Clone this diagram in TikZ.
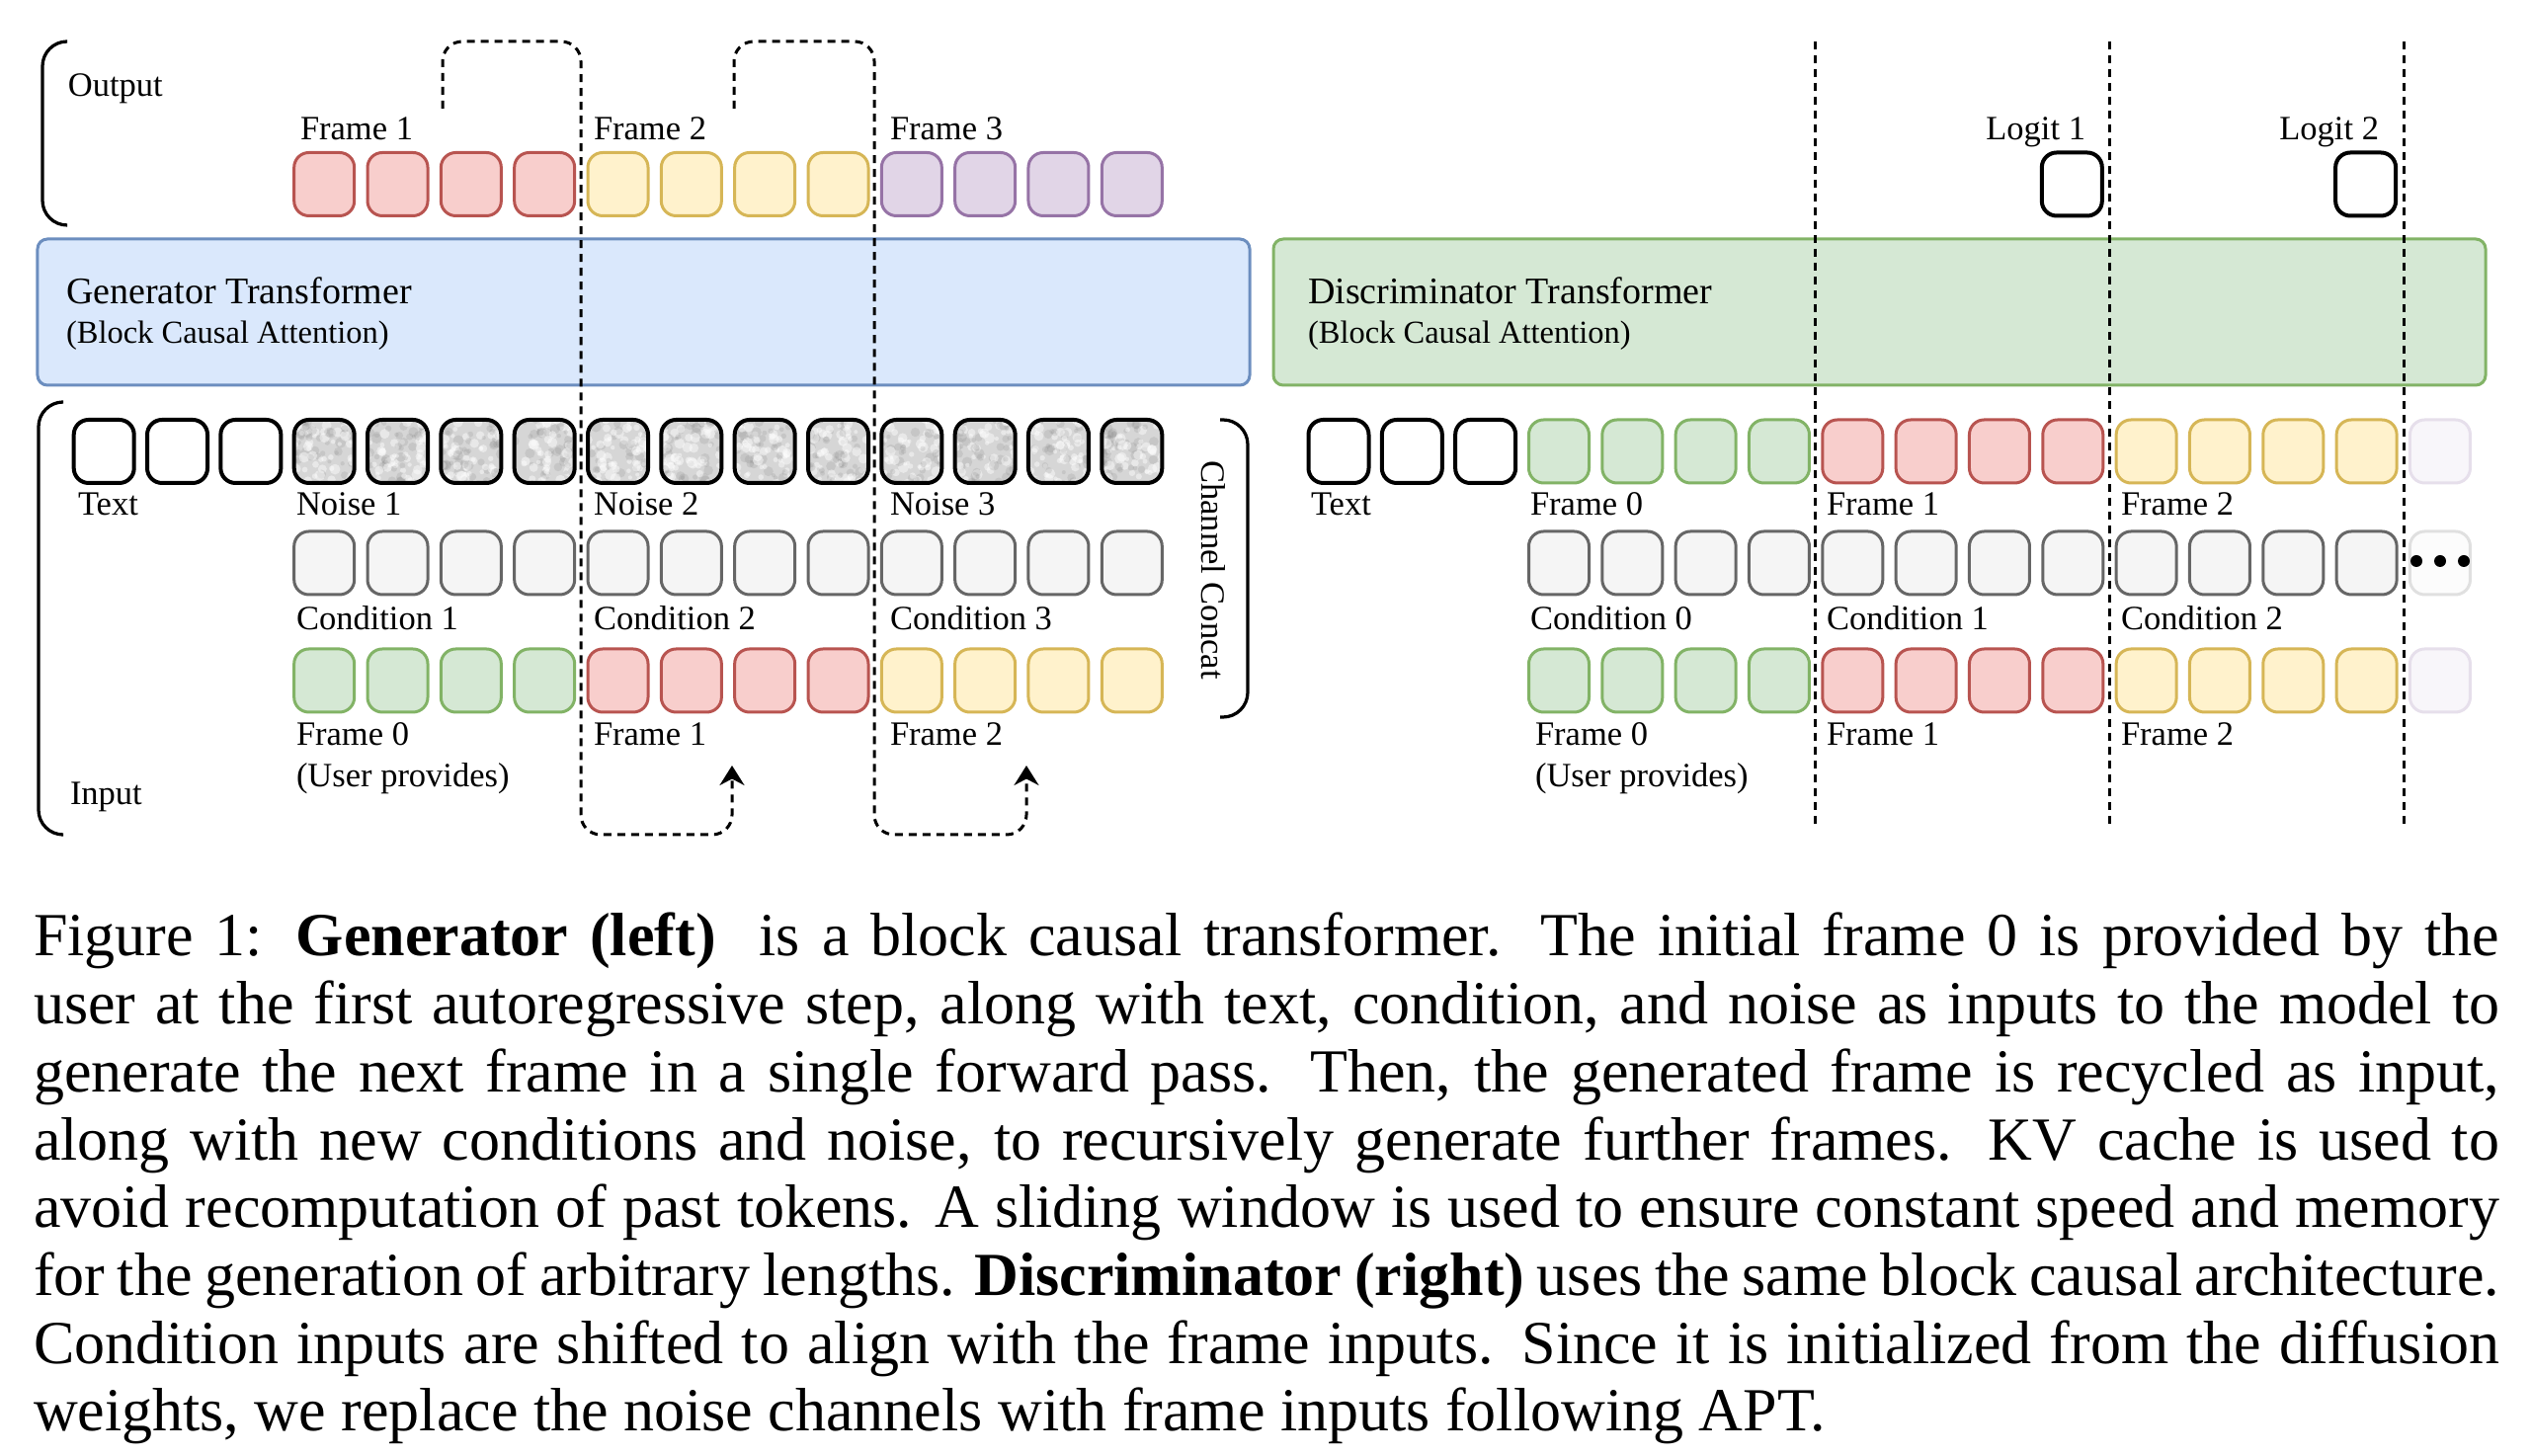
\documentclass[tikz,border=0pt]{standalone}
\usepackage{fontspec}
\setmainfont{Liberation Serif}
\usetikzlibrary{arrows.meta}
\definecolor{RedF}{HTML}{F8CECC}\definecolor{RedD}{HTML}{B85450}
\definecolor{YelF}{HTML}{FFF2CC}\definecolor{YelD}{HTML}{D6B656}
\definecolor{PurF}{HTML}{E1D5E7}\definecolor{PurD}{HTML}{9673A6}
\definecolor{GrnF}{HTML}{D5E8D4}\definecolor{GrnD}{HTML}{82B366}
\definecolor{GryF}{HTML}{F5F5F5}\definecolor{GryD}{HTML}{666666}
\definecolor{BluF}{HTML}{DAE8FC}\definecolor{BluD}{HTML}{6C8EBF}
\definecolor{FPurF}{HTML}{F8F6FA}\definecolor{FPurD}{HTML}{E6DFEB}
\definecolor{FGryF}{HTML}{FCFCFC}\definecolor{FGryD}{HTML}{E0E0E0}
\definecolor{NoiseBase}{HTML}{D6D6D6}
\newcommand{\lblfont}{\fontsize{6.9}{8}\selectfont}
\newcommand{\ttlfont}{\fontsize{7.6}{9}\selectfont}
\newcommand{\subfont}{\fontsize{6.5}{8}\selectfont}
\tikzset{
  tok/.style={rectangle, rounded corners=3pt, minimum width=12.2pt, minimum height=12.8pt, inner sep=0pt, line width=0.6pt},
  txttok/.style={tok, draw=black, fill=white, line width=0.8pt},
  noisetok/.style={tok, draw=black, fill=NoiseBase, line width=0.8pt,
    path picture={
      \begin{scope}[shift={(path picture bounding box.center)}]
      \foreach \i in {1,...,90}{
        \pgfmathsetmacro{\nx}{rand*32}
        \pgfmathsetmacro{\ny}{rand*34}
        \pgfmathsetmacro{\nr}{0.4+rnd*0.7}
        \pgfmathsetmacro{\nw}{rnd}
        \ifdim\nw pt>0.45pt
          \fill[white, opacity=0.45] (\nx,\ny) circle (\nr pt);
        \else
          \fill[black!50, opacity=0.18] (\nx,\ny) circle (\nr pt);
        \fi
      }
      \end{scope}
    }},
  redtok/.style={tok, draw=RedD, fill=RedF},
  yeltok/.style={tok, draw=YelD, fill=YelF},
  purtok/.style={tok, draw=PurD, fill=PurF},
  grntok/.style={tok, draw=GrnD, fill=GrnF},
  grytok/.style={tok, draw=GryD, fill=GryF},
  fpurtok/.style={tok, draw=FPurD, fill=FPurF},
  fgrytok/.style={tok, draw=FGryD, fill=FGryF},
  lbl/.style={anchor=base west, inner sep=0pt, font=\lblfont},
  lble/.style={anchor=base east, inner sep=0pt, font=\lblfont},
  bigbox/.style={rectangle, rounded corners=2pt, line width=0.6pt, minimum width=245.4pt, minimum height=29.6pt, inner sep=0pt},
  dashline/.style={line width=0.6pt, dash pattern=on 1.6pt off 1.2pt},
  brk/.style={line width=0.65pt, rounded corners=5pt},
  arrowtip/.style={-{Stealth[length=4pt,width=5pt]}}
}
\begin{document}
\begin{tikzpicture}[x=0.2pt,y=-0.2pt]
\pgfmathsetseed{42}
\useasboundingbox (0,0) rectangle (2562,1474);

% transformer boxes
\node[bigbox, draw=BluD, fill=BluF] (gen) at (651.5,316) {};
\node[bigbox, draw=GrnD, fill=GrnF] (dis) at (1902.5,316) {};
\node[anchor=base west, inner sep=0pt, font=\ttlfont] (gent) at (66,308) {Generator Transformer};
\node[anchor=base west, inner sep=0pt, font=\subfont] (gens) at (66,348) {(Block Causal Attention)};
\node[anchor=base west, inner sep=0pt, font=\ttlfont] (dist) at (1323,308) {Discriminator Transformer};
\node[anchor=base west, inner sep=0pt, font=\subfont] (diss) at (1323,348) {(Block Causal Attention)};

% ---------- left: generator ----------
% output row
\foreach \k in {3,...,6}{\node[redtok] (o\k) at ({105.2+74.33*\k},186.5) {};}
\foreach \k in {7,...,10}{\node[yeltok] (o\k) at ({105.2+74.33*\k},186.5) {};}
\foreach \k in {11,...,14}{\node[purtok] (o\k) at ({105.2+74.33*\k},186.5) {};}
% input row 1
\foreach \k in {0,...,2}{\node[txttok] (a\k) at ({105.2+74.33*\k},457) {};}
\foreach \k in {3,...,14}{\node[noisetok] (a\k) at ({105.2+74.33*\k},457) {};}
% input row 2
\foreach \k in {3,...,14}{\node[grytok] (b\k) at ({105.2+74.33*\k},570) {};}
% input row 3
\foreach \k in {3,...,6}{\node[grntok] (c\k) at ({105.2+74.33*\k},689) {};}
\foreach \k in {7,...,10}{\node[redtok] (c\k) at ({105.2+74.33*\k},689) {};}
\foreach \k in {11,...,14}{\node[yeltok] (c\k) at ({105.2+74.33*\k},689) {};}

% labels left
\node[lbl] (lout) at (68,98) {Output};
\node[lbl] (lin) at (70,815) {Input};
\node[lbl] (lo1) at (303,142) {Frame 1};
\node[lbl] (lo2) at (600,142) {Frame 2};
\node[lbl] (lo3) at (900,142) {Frame 3};
\node[lbl] (lt) at (78,522) {Text};
\node[lbl] (ln1) at (299,522) {Noise 1};
\node[lbl] (ln2) at (600,522) {Noise 2};
\node[lbl] (ln3) at (900,522) {Noise 3};
\node[lbl] (lc1) at (299,638) {Condition 1};
\node[lbl] (lc2) at (600,638) {Condition 2};
\node[lbl] (lc3) at (900,638) {Condition 3};
\node[lbl] (lf0) at (299,755) {Frame 0};
\node[lbl] (lf1) at (600,755) {Frame 1};
\node[lbl] (lf2) at (900,755) {Frame 2};
\node[lbl] (lup) at (299,797) {(User provides)};
\node[font=\lblfont, rotate=-90, inner sep=0pt] (lcc) at (1228,577) {Channel Concat};

% brackets
\draw[brk] (68,42) -- (43,42) -- (43,228) -- (68,228);
\draw[brk] (62,407) -- (39,407) -- (39,845) -- (62,845);
\draw[brk] (1235,425) -- (1263,425) -- (1263,726) -- (1235,726);

% recurrence loops
\coordinate (l1s) at (448,110);
\coordinate (l1e) at (741,775);
\coordinate (l2s) at (743,110);
\coordinate (l2e) at (1039,775);
\draw[dashline, rounded corners=4pt, arrowtip] (l1s) -- (448,42) -- (588,42) -- (588,845) -- (741,845) -- (l1e);
\draw[dashline, rounded corners=4pt, arrowtip] (l2s) -- (743,42) -- (885,42) -- (885,845) -- (1039,845) -- (l2e);

% ---------- right: discriminator ----------
\node[txttok] (lg1) at ({1354+74.33*10},186.5) {};
\node[txttok] (lg2) at ({1354+74.33*14},186.5) {};
\foreach \k in {0,...,2}{\node[txttok] (d\k) at ({1355+74.33*\k},457) {};}
\foreach \k in {3,...,6}{\node[grntok] (d\k) at ({1355+74.33*\k},457) {};}
\foreach \k in {7,...,10}{\node[redtok] (d\k) at ({1355+74.33*\k},457) {};}
\foreach \k in {11,...,14}{\node[yeltok] (d\k) at ({1355+74.33*\k},457) {};}
\node[fpurtok] (d15) at ({1355+74.33*15},457) {};
\foreach \k in {3,...,14}{\node[grytok] (e\k) at ({1355+74.33*\k},570) {};}
\node[fgrytok] (e15) at ({1355+74.33*15},570) {};
\foreach \k in {3,...,6}{\node[grntok] (f\k) at ({1355+74.33*\k},689) {};}
\foreach \k in {7,...,10}{\node[redtok] (f\k) at ({1355+74.33*\k},689) {};}
\foreach \k in {11,...,14}{\node[yeltok] (f\k) at ({1355+74.33*\k},689) {};}
\node[fpurtok] (f15) at ({1355+74.33*15},689) {};
\fill (2446,568) circle (1.2pt) (2470,568) circle (1.2pt) (2494,568) circle (1.2pt);

% labels right
\node[lble] (llg1) at (2112,142) {Logit 1};
\node[lble] (llg2) at (2409,142) {Logit 2};
\node[lbl] (rt) at (1326,522) {Text};
\node[lbl] (rf0) at (1548,522) {Frame 0};
\node[lbl] (rf1) at (1848,522) {Frame 1};
\node[lbl] (rf2) at (2146,522) {Frame 2};
\node[lbl] (rc0) at (1548,638) {Condition 0};
\node[lbl] (rc1) at (1848,638) {Condition 1};
\node[lbl] (rc2) at (2146,638) {Condition 2};
\node[lbl] (rg0) at (1553,755) {Frame 0};
\node[lbl] (rg1) at (1848,755) {Frame 1};
\node[lbl] (rg2) at (2146,755) {Frame 2};
\node[lbl] (rup) at (1553,797) {(User provides)};

% separators
\coordinate (s1t) at (1837,42); \coordinate (s1b) at (1837,835);
\coordinate (s2t) at (2135,42); \coordinate (s2b) at (2135,835);
\coordinate (s3t) at (2433,42); \coordinate (s3b) at (2433,835);
\draw[dashline] (s1t) -- (s1b);
\draw[dashline] (s2t) -- (s2b);
\draw[dashline] (s3t) -- (s3b);

% caption
\node[anchor=base west, inner sep=0pt] (cap) at (33,968) {\parbox[t]{499.2pt}{\fontsize{12.4}{13.74}\selectfont\tolerance=10000\parindent=0pt
Figure 1: \textbf{Generator (left)} \ is a block causal transformer. The initial frame 0 is provided by the\linebreak
user at the first autoregressive step, along with text, condition, and noise as inputs to the model to\linebreak
generate the next frame in a single forward pass. Then, the generated frame is recycled as input,\linebreak
along with new conditions and noise, to recursively generate further frames. KV cache is used to\linebreak
avoid recomputation of past tokens. A sliding window is used to ensure constant speed and memory\linebreak
for the generation of arbitrary lengths. \textbf{Discriminator (right)} uses the same block causal architecture.\linebreak
Condition inputs are shifted to align with the frame inputs. Since it is initialized from the diffusion\linebreak
weights, we replace the noise channels with frame inputs following APT.}};
\end{tikzpicture}
\end{document}
